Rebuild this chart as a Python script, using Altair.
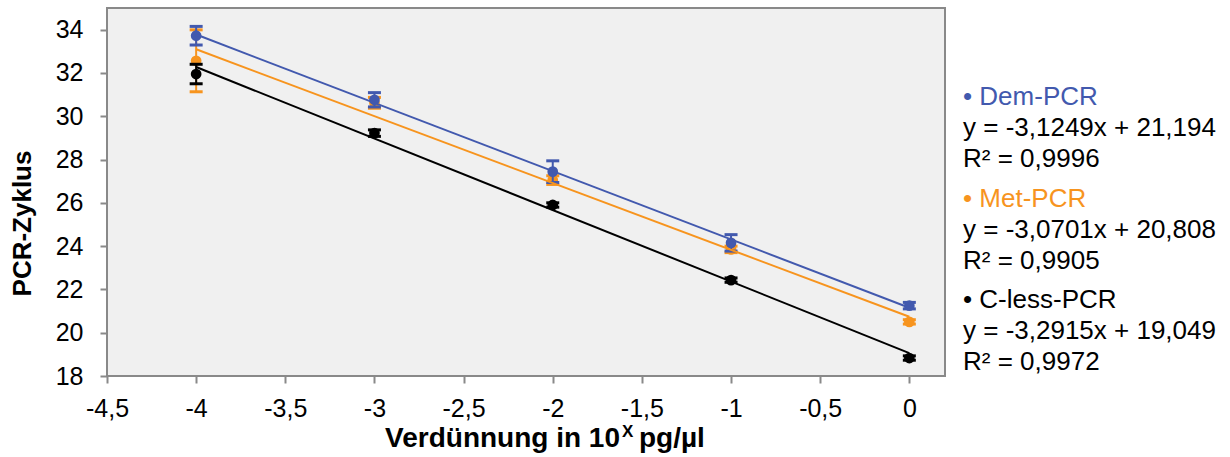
import altair as alt
import pandas as pd

# ---- data ----
dilution = [-4, -3, -2, -1, 0]
series_names = ["Dem-PCR", "Met-PCR", "C-less-PCR"]
dem_mean = [33.72, 30.76, 27.44, 24.15, 21.25]
dem_err = [0.43, 0.33, 0.50, 0.38, 0.15]
met_mean = [32.56, 30.62, 27.05, 23.85, 20.50]
met_err = [1.43, 0.25, 0.20, 0.15, 0.10]
cless_mean = [31.95, 29.22, 25.90, 22.43, 18.83]
cless_err = [0.45, 0.15, 0.10, 0.10, 0.10]
colors = ["#4259AE", "#F7941E", "#000000"]
equations = ["y = -3,1249x + 21,194", "y = -3,0701x + 20,808", "y = -3,2915x + 19,049"]
r_squared = ["R² = 0,9996", "R² = 0,9905", "R² = 0,9972"]
x_ticks = [-4.5, -4, -3.5, -3, -2.5, -2, -1.5, -1, -0.5, 0]
y_ticks = [18, 20, 22, 24, 26, 28, 30, 32, 34]

means = [dem_mean, met_mean, cless_mean]
errs = [dem_err, met_err, cless_err]

rows = []
for name, m, e in zip(series_names, means, errs):
    for x, v, d in zip(dilution, m, e):
        rows.append({"series": name, "x": x, "y": v, "lo": v - d, "hi": v + d})
df = pd.DataFrame(rows)

FONT = "Liberation Sans"
W, H = 838, 368

xscale = alt.Scale(domain=[-4.5, 0.2], nice=False, zero=False)
yscale = alt.Scale(domain=[18, 35], nice=False, zero=False)

xaxis = alt.Axis(values=x_ticks, labelExpr="replace(toString(datum.value), '.', ',')",
                 grid=False, domain=False, tickColor="#898989", tickWidth=2, tickSize=7,
                 labelFont=FONT, labelFontSize=25, labelColor="#000000", labelPadding=13,
                 labelFlush=False, labelOverlap=False, labelBound=False, title=None)
yaxis = alt.Axis(values=y_ticks, grid=False, domain=False, tickColor="#898989", tickWidth=2,
                 tickSize=7, labelFont=FONT, labelFontSize=25, labelColor="#000000",
                 labelPadding=17, labelFlush=False, labelOverlap=False, labelBound=False,
                 title="PCR-Zyklus", titleFont=FONT, titleFontSize=26, titleFontWeight="bold",
                 titleColor="#000000", titleX=-85, titleY=215, titleAngle=270,
                 titleAlign="center", titleBaseline="middle")

X = alt.X("x:Q", scale=xscale, axis=xaxis)
Y = alt.Y("y:Q", scale=yscale, axis=yaxis)


def series_layers(name, color):
    base = alt.Chart(df).transform_filter(alt.datum.series == name)
    rule = base.mark_rule(color=color, strokeWidth=2, opacity=1).encode(
        x=X, y=alt.Y("lo:Q", scale=yscale), y2="hi:Q")
    cap_lo = base.mark_tick(color=color, size=13, thickness=3, orient="horizontal", opacity=1).encode(
        x=X, y=alt.Y("lo:Q", scale=yscale))
    cap_hi = base.mark_tick(color=color, size=13, thickness=3, orient="horizontal", opacity=1).encode(
        x=X, y=alt.Y("hi:Q", scale=yscale))
    pts = base.mark_point(filled=True, shape="circle", size=115, opacity=1, color=color).encode(x=X, y=Y)
    return [rule, cap_lo, cap_hi, pts]


def trend(name, color):
    return alt.Chart(df).transform_filter(alt.datum.series == name).transform_regression(
        "x", "y", extent=[-4, 0]).mark_line(color=color, strokeWidth=2).encode(x=X, y=Y)


layers = []
# drawing order: Met, C-less, Dem
for idx in [1, 2, 0]:
    layers += series_layers(series_names[idx], colors[idx])
for idx in [1, 2, 0]:
    layers.append(trend(series_names[idx], colors[idx]))

dummy = pd.DataFrame({"d": [0]})


def text(t, x, y, size=26, color="#000000", weight="normal", align="left"):
    return alt.Chart(dummy).mark_text(text=t, font=FONT, fontSize=size, color=color,
                                      fontWeight=weight, align=align, baseline="middle").encode(
        x=alt.value(x), y=alt.value(y))


# legend with trendline equations
lx = 856
group_y = [89, 191, 292]
for i in range(3):
    gy = group_y[i]
    layers.append(text("• " + series_names[i], lx, gy, color=colors[i]))
    layers.append(text(equations[i], lx, gy + 31))
    layers.append(text(r_squared[i], lx, gy + 62))

# x-axis title with superscript
layers.append(text("Verdünnung in 10", 513, 431, size=28, weight="bold", align="right"))
layers.append(text("X", 515, 424, size=17, weight="bold"))
layers.append(text("pg/µl", 532, 431, size=28, weight="bold"))

chart = alt.layer(*layers).properties(
    width=W, height=H,
    autosize=alt.AutoSizeParams(type="none"),
    padding={"left": 107, "top": 8, "right": 285, "bottom": 81},
    background="#FFFFFF",
).configure_view(fill="#F0F0F0", stroke="#898989", strokeWidth=2)

chart.save("out.html", embed_options={"renderer": "svg", "actions": False})
